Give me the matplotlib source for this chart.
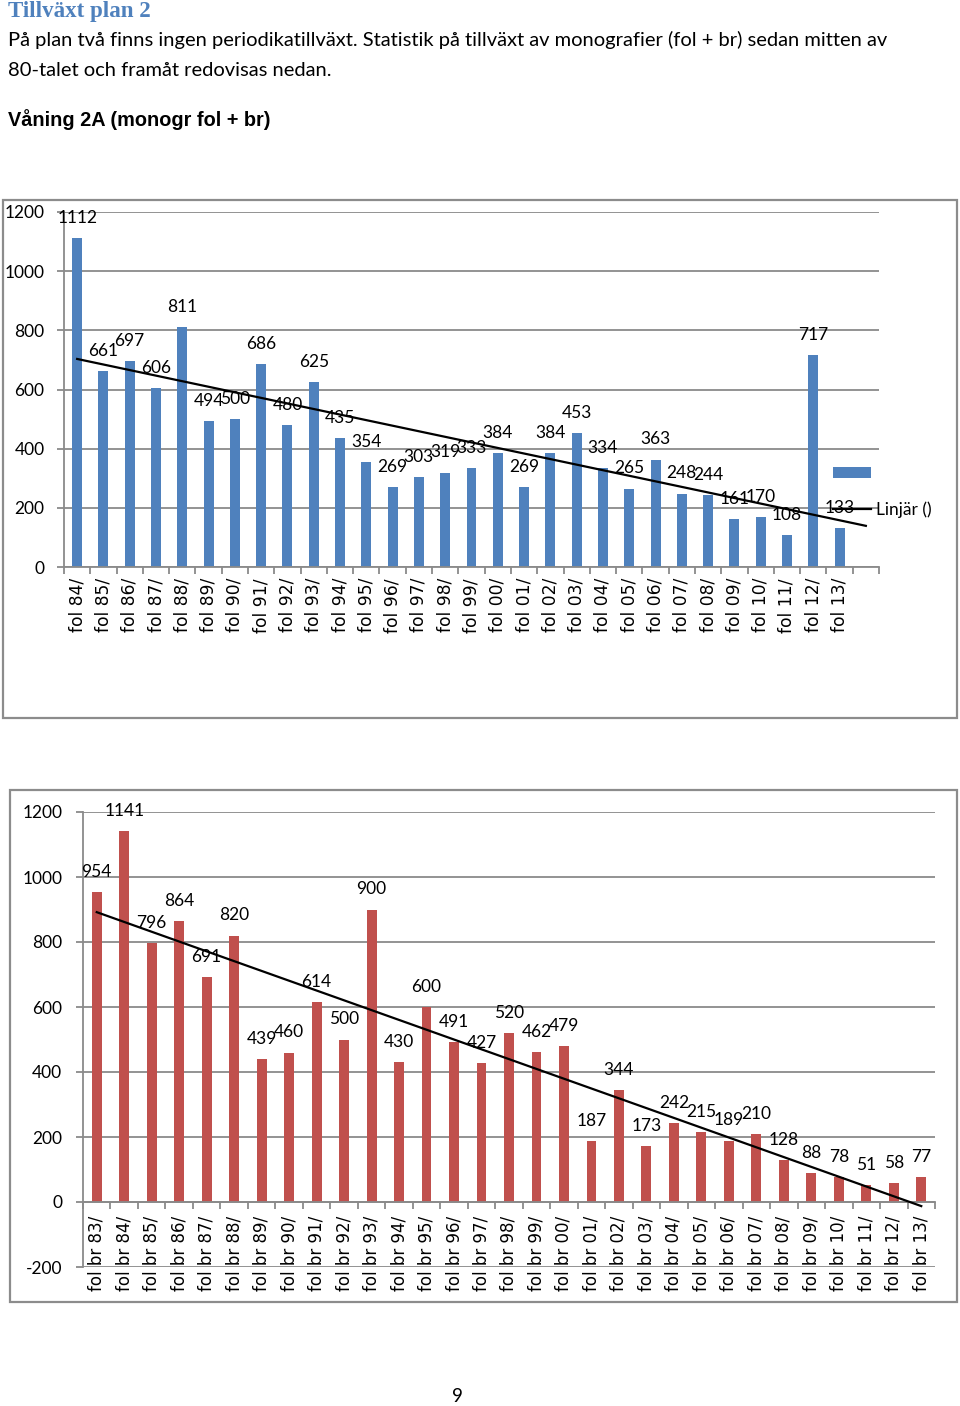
import numpy as np
import matplotlib
matplotlib.use('Agg')
import matplotlib.pyplot as plt
from matplotlib.patches import Rectangle

plt.rcParams['axes.unicode_minus'] = False

# Data
fol_labels = ['fol %s/' % y for y in ['84', '85', '86', '87', '88', '89', '90', '91', '92', '93',
                                        '94', '95', '96', '97', '98', '99', '00', '01', '02', '03',
                                        '04', '05', '06', '07', '08', '09', '10', '11', '12', '13']]
fol_values = [1112, 661, 697, 606, 811, 494, 500, 686, 480, 625,
              435, 354, 269, 303, 319, 333, 384, 269, 384, 453,
              334, 265, 363, 248, 244, 161, 170, 108, 717, 133]

br_labels = ['fol br %s/' % y for y in ['83', '84', '85', '86', '87', '88', '89', '90', '91', '92',
                                          '93', '94', '95', '96', '97', '98', '99', '00', '01', '02',
                                          '03', '04', '05', '06', '07', '08', '09', '10', '11', '12', '13']]
br_values = [954, 1141, 796, 864, 691, 820, 439, 460, 614, 500,
             900, 430, 600, 491, 427, 520, 462, 479, 187, 344,
             173, 242, 215, 189, 210, 128, 88, 78, 51, 58, 77]

W, H = 960, 1406
BLUE = '#4F81BD'
RED = '#C0504D'
GRID = '#8a8a8a'
CAL = ['Lato', 'DejaVu Sans']

fig = plt.figure(figsize=(W / 100, H / 100), dpi=100)
fig.patch.set_facecolor('white')


def px_axes(x0, y0, x1, y1):
    return fig.add_axes([x0 / W, 1 - y1 / H, (x1 - x0) / W, (y1 - y0) / H])


def frame(x0, y0, x1, y1):
    fig.patches.append(Rectangle((x0 / W, 1 - y1 / H), (x1 - x0) / W, (y1 - y0) / H,
                                 transform=fig.transFigure, fill=False,
                                 edgecolor='#8c8c8c', lw=1.6))


def style_axes(ax, n, labels, tick_pad, label_pad, label_size):
    ax.set_xlim(-0.5, n - 0.5)
    for s in ['top', 'right']:
        ax.spines[s].set_visible(False)
    for s in ['left', 'bottom']:
        ax.spines[s].set_color(GRID)
        ax.spines[s].set_linewidth(1.3)
    ax.yaxis.grid(True, color=GRID, lw=1.3)
    ax.set_axisbelow(True)
    ax.tick_params(axis='y', length=5, width=1.3, color=GRID, pad=tick_pad, labelsize=12.5)
    for t in ax.get_yticklabels():
        t.set_family(CAL)
    ax.set_xticks(np.arange(len(labels)))
    ax.set_xticklabels(labels, rotation=90)
    ax.set_xticks(np.arange(-0.5, n), minor=True)
    ax.tick_params(axis='x', which='minor', length=5, width=1.3, color=GRID)
    ax.tick_params(axis='x', which='major', length=0, pad=label_pad, labelsize=label_size)


# ---- page text ----
fig.text(8 / W, 1 - 11 / H, 'Tillväxt plan 2', family='Liberation Serif', weight='bold',
         fontsize=16.5, color='#4F81BD', va='center')
fig.text(8 / W, 1 - 40 / H,
         'På plan två finns ingen periodikatillväxt. Statistik på tillväxt av monografier (fol + br) sedan mitten av',
         family=CAL, fontsize=14.5, va='center')
fig.text(8 / W, 1 - 70 / H, '80-talet och framåt redovisas nedan.', family=CAL, fontsize=14.5, va='center')
fig.text(8 / W, 1 - 120 / H, 'Våning 2A (monogr fol + br)', family='Liberation Sans', weight='bold',
         fontsize=14.3, va='center')
fig.text(457 / W, 1 - 1397 / H, '9', family=CAL, fontsize=13.5, ha='center', va='center')

# ---- chart 1: fol ----
frame(3, 200, 957, 718)
ax1 = px_axes(64, 212, 879, 567)
n1 = len(fol_values) + 1
x1 = np.arange(len(fol_values))
bars1 = ax1.bar(x1, fol_values, width=0.38, color=BLUE, zorder=2)
ax1.set_ylim(0, 1200)
ax1.set_yticks(range(0, 1201, 200))
style_axes(ax1, n1, fol_labels, 9, 8, 12.3)
for xi, v in zip(x1, fol_values):
    ax1.annotate(str(v), (xi, v), xytext=(0, 14.5), textcoords='offset points',
                 ha='center', va='center', family=CAL, fontsize=12.5, zorder=4)
k1, m1 = np.polyfit(x1, fol_values, 1)
xt1 = np.array([0, len(fol_values)])
trend1, = ax1.plot(xt1, k1 * xt1 + m1, color='black', lw=1.6, zorder=3, clip_on=False)
leg = ax1.legend([bars1, trend1], ['', 'Linjär ()'], loc='upper left',
                 bbox_to_anchor=(833 / W, 1 - 466 / H), bbox_transform=fig.transFigure,
                 frameon=False, borderpad=0, borderaxespad=0, handlelength=2.2,
                 handleheight=0.6, handletextpad=0.3, labelspacing=1.1,
                 prop={'family': CAL, 'size': 12.5})
leg.set_zorder(5)

# ---- chart 2: fol br ----
frame(10, 790, 957, 1302)
ax2 = px_axes(83, 812, 935, 1267)
x2 = np.arange(len(br_values))
ax2.bar(x2, br_values, width=0.36, color=RED, zorder=2)
ax2.set_ylim(-200, 1200)
ax2.spines['bottom'].set_position(('data', 0))
ax2.set_yticks(range(-200, 1201, 200))
style_axes(ax2, len(br_values), br_labels, 10, 10, 12)
for xi, v in zip(x2, br_values):
    ax2.annotate(str(v), (xi, v), xytext=(0, 14.5), textcoords='offset points',
                 ha='center', va='center', family=CAL, fontsize=12.5, zorder=4)
k2, m2 = np.polyfit(x2, br_values, 1)
xt2 = np.array([0, len(br_values) - 1])
ax2.plot(xt2, k2 * xt2 + m2, color='black', lw=1.6, zorder=3, clip_on=False)

fig.savefig('out.png', dpi=100)
